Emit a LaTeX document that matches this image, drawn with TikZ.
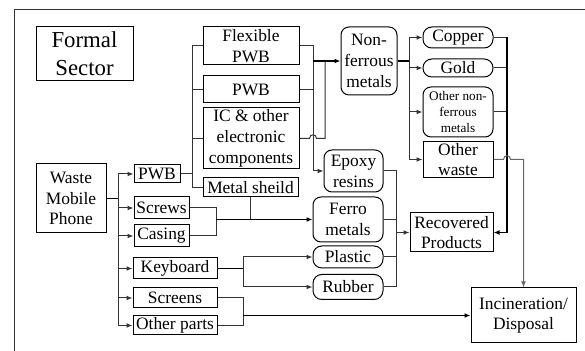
\documentclass[tikz,border=0pt]{standalone}
\usepackage{fontspec}
\setmainfont{Liberation Serif}
\setsansfont{Liberation Serif}
\newfontfamily\labelfont{Liberation Serif}
\usetikzlibrary{arrows.meta}

\begin{document}
\begin{tikzpicture}[
    x=0.5pt, y=-0.5pt,
    part/.style={
        draw, line width=0.5pt, align=center, inner sep=0.6pt,
        font=\labelfont\fontsize{8.7}{10.4}\selectfont
    },
    yield/.style={part, rounded corners=4pt},
    pill/.style={part, rounded corners=4.4pt},
    arr/.style={-{Latex[length=3pt,width=2.4pt]}},
    wire/.style={line width=0.5pt, black!80},
    trunk/.style={line width=0.9pt, black},
    hop/.style={out=90, in=90, looseness=1.8}
]
\useasboundingbox (0,0) rectangle (585,351);

% Moldura
\draw[line width=0.5pt, black!80] (585,10) -- (14,10) -- (14,351);

% Setor
\node[part, minimum width=48.5pt, minimum height=27pt,
      font=\labelfont\fontsize{11.4}{14}\selectfont] (formal) at (84.5,54) {Formal\\Sector};

% Telefone e primeira separacao
\node[part, minimum width=35pt, minimum height=34.5pt] (phone) at (71,198.5) {Waste\\Mobile\\Phone};
\node[part, minimum width=23pt, minimum height=9pt]    (pwb)     at (157,174)   {PWB};
\node[part, minimum width=27.5pt, minimum height=11pt] (screws)  at (161.5,208) {Screws};
\node[part, minimum width=27.5pt, minimum height=11pt] (casing)  at (161.5,236) {Casing};
\node[part, minimum width=42pt, minimum height=10.5pt] (keyb)    at (175,268.5) {Keyboard};
\node[part, minimum width=42pt, minimum height=10pt]   (screens) at (175,298)   {Screens};
\node[part, minimum width=42pt, minimum height=9.5pt]  (others)  at (175,325.5) {Other parts};

% Partes da placa
\node[part, minimum width=48pt, minimum height=19pt]   (flex)   at (251,46)    {Flexible\\PWB};
\node[part, minimum width=48pt, minimum height=13.5pt] (pwbtwo) at (251,89.5)  {PWB};
\node[part, minimum width=48pt, minimum height=30.5pt] (ic)     at (251,138.5) {IC \& other\\electronic\\components};
\node[part, minimum width=47.5pt, minimum height=9.5pt] (shield) at (250.5,187.5) {Metal sheild};

% Materiais
\node[yield, minimum width=28pt, minimum height=34pt]   (nonf)    at (369,61)    {Non-\\ferrous\\metals};
\node[yield, minimum width=29.5pt, minimum height=21pt] (epoxy)   at (353.5,171) {Epoxy\\resins};
\node[yield, minimum width=35pt, minimum height=22.5pt] (ferro)   at (348,219.5) {Ferro\\metals};
\node[pill, minimum width=35pt, minimum height=11pt]    (plastic) at (348,257)   {Plastic};
\node[pill, minimum width=35pt, minimum height=12.5pt]  (rubber)  at (348,287)   {Rubber};

% Metais recuperados
\node[pill, minimum width=35pt, minimum height=10.5pt] (copper)  at (458,37.5) {Copper};
\node[pill, minimum width=35pt, minimum height=9pt]    (gold)    at (458,68)   {Gold};
\node[yield, minimum width=35pt, minimum height=25pt,
      font=\labelfont\fontsize{6.6}{8.2}\selectfont] (othernf) at (458,112) {Other non-\\ferrous\\metals};
\node[part, minimum width=35pt, minimum height=17.5pt] (owaste)  at (458,159.5) {Other\\waste};

% Destinos
\node[part, minimum width=41.5pt, minimum height=19.5pt] (recov) at (451.5,232.5) {Recovered\\Products};
\node[part, minimum width=52.5pt, minimum height=27.5pt] (incin) at (523.5,315.5) {Incineration/\\Disposal};

% Pontos de juncao
\coordinate (phbus)  at (118,198.5);
\coordinate (pwbbus) at (192,174);
\coordinate (epbus)  at (313,61);
\coordinate (icbus)  at (325,61);
\coordinate (hopA)   at (313,138.5);
\coordinate (scbus)  at (216,219.5);
\coordinate (fejoin) at (250.5,219.5);
\coordinate (kbbus)  at (243,268.5);
\coordinate (scrbus) at (243,315.5);
\coordinate (rcbus)  at (396,232.5);
\coordinate (nfbus)  at (409,61);
\coordinate (mtbus)  at (507,232.5);
\coordinate (hopB)   at (507,159.5);

% Telefone -> partes
\draw[trunk] (phone.east) -- (phbus);
\foreach \p in {pwb,screws,casing,keyb,screens,others}
    \draw[wire,arr] (phbus) |- (\p.west);

% Placa -> partes da placa
\draw[wire] (pwb.east) -- (pwbbus);
\foreach \p in {flex,pwbtwo,ic,shield}
    \draw[wire] (pwbbus) |- (\p.west);

% Placa -> metais e resinas
\draw[wire] (flex.east) -| (epbus);
\draw[wire] (pwbtwo.east) -| (epbus);
\draw[wire,arr] (epbus) |- (epoxy.west);
\draw[wire] (ic.east) -- ([xshift=-1.75pt]hopA) to[hop] ([xshift=1.75pt]hopA) -| (icbus);
\draw[trunk,arr] (epbus) -- (nonf.west);

% Parafusos, carcaca, blindagem -> ferrosos
\draw[wire] (screws.east) -| (scbus);
\draw[wire] (casing.east) -| (scbus);
\draw[wire] (shield.south) -- (fejoin);
\draw[trunk,arr] (scbus) -- (ferro.west);

% Teclado -> plastico e borracha
\draw[trunk] (keyb.east) -- (kbbus);
\draw[wire,arr] (kbbus) |- (plastic.west);
\draw[wire,arr] (kbbus) |- (rubber.west);

% Telas e outras -> incineracao
\draw[wire] (screens.east) -| (scrbus);
\draw[wire] (others.east) -| (scrbus);
\draw[trunk,arr] (scrbus) -- (incin.west);

% Materiais -> recuperados
\foreach \p in {epoxy,ferro,plastic,rubber}
    \draw[wire] (\p.east) -| (rcbus);
\draw[wire,arr] (rcbus) -- (recov.west);

% Nao ferrosos -> metais
\draw[trunk] (nonf.east) -- (nfbus);
\foreach \p in {copper,gold,othernf,owaste}
    \draw[wire,arr] (nfbus) |- (\p.west);

% Metais -> recuperados
\foreach \p in {copper,gold,othernf}
    \draw[wire] (\p.east) -- (\p.east -| mtbus);
\draw[trunk,arr] (copper.east -| mtbus) |- (recov.east);

% Outros residuos -> incineracao
\draw[wire,black!60,arr] (owaste.east) -- ([xshift=-1.75pt]hopB) to[hop] ([xshift=1.75pt]hopB) -| (incin.north);

\end{tikzpicture}
\end{document}
